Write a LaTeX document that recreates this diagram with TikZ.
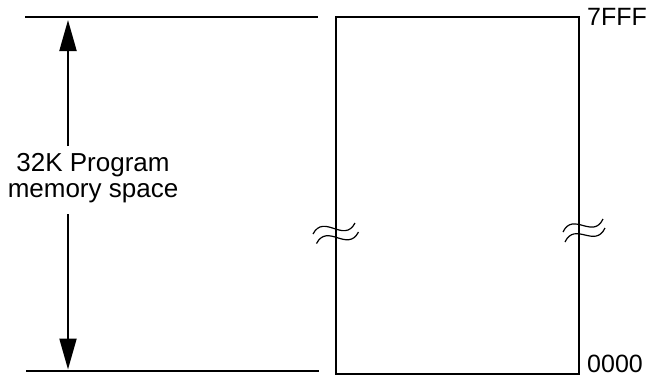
\documentclass[tikz,border=0pt]{standalone}
\usepackage{fontspec}
\setmainfont{Liberation Sans}
\usetikzlibrary{arrows.meta}
\begin{document}
\begin{tikzpicture}[x=1pt,y=-1pt,
  thick line/.style={line width=2pt},
  dimarrow/.style={line width=2pt,-{Triangle[length=31pt,width=17pt]}},
  wave/.style={line width=1.2pt},
  lbl/.style={inner sep=0pt,font=\fontsize{26}{26}\selectfont},
  addr/.style={inner sep=0pt,font=\fontsize{25}{25}\selectfont}]
\useasboundingbox (0,0) rectangle (648,381);
% boundary lines
\coordinate (tl) at (25,17.3);
\coordinate (tr) at (318,17.3);
\coordinate (bl) at (26,371);
\coordinate (br) at (319,371);
\draw[thick line] (tl) -- (tr);
\draw[thick line] (bl) -- (br);
% memory block
\node[draw,line width=2pt,minimum width=243pt,minimum height=357.3pt,inner sep=0pt,anchor=north west] (mem) at (335,15.7) {};
% address labels
\node[addr,anchor=base west] (hi) at (587,25) {7FFF};
\node[addr,anchor=base west] (lo) at (587,372) {0000};
% size label and arrow
\node[lbl,align=center] (size) at (93,178.5) {32K Program\\memory space};
\coordinate (ttip) at (68,20);
\coordinate (btip) at (68,369.5);
\coordinate (gapT) at (68,146);
\coordinate (gapB) at (68,214);
\draw[dimarrow] (gapT) -- (ttip);
\draw[dimarrow] (gapB) -- (btip);
% break marks
\coordinate (lw1a) at (313,234);
\coordinate (lw1b) at (355,223);
\coordinate (lw2a) at (316.5,243.5);
\coordinate (lw2b) at (358.5,232);
\draw[wave] (lw1a) .. controls (324,213) and (344,244) .. (lw1b);
\draw[wave] (lw2a) .. controls (327.5,222.5) and (347.5,253) .. (lw2b);
\coordinate (rw1a) at (563,232);
\coordinate (rw1b) at (603,219);
\coordinate (rw2a) at (565,242);
\coordinate (rw2b) at (605,228);
\draw[wave] (rw1a) .. controls (573,211) and (593,240) .. (rw1b);
\draw[wave] (rw2a) .. controls (575,221) and (595,249) .. (rw2b);
\end{tikzpicture}
\end{document}
